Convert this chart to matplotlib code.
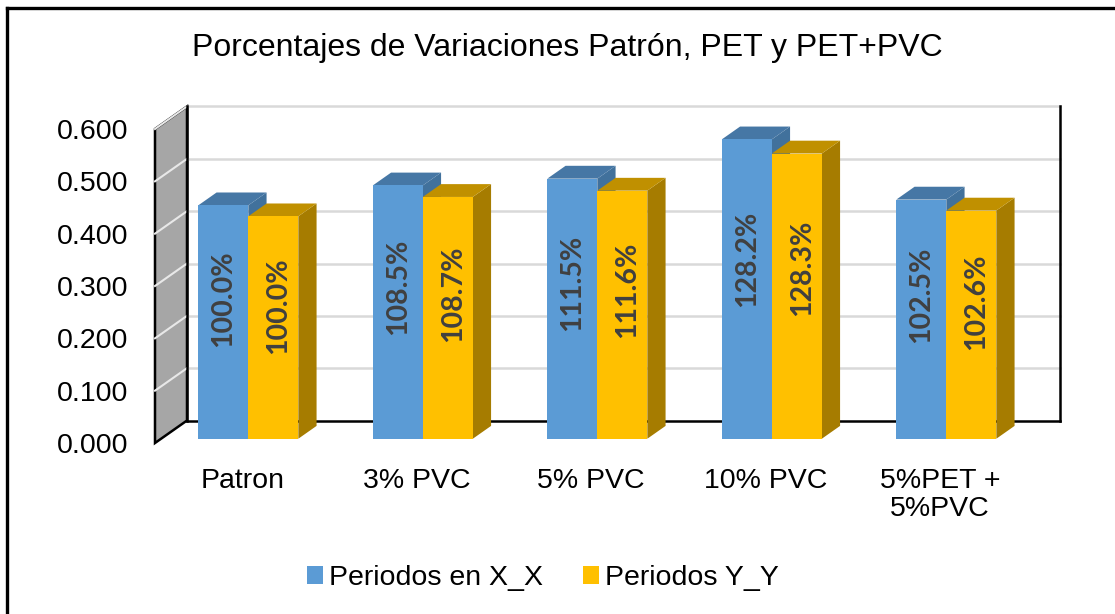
import matplotlib

matplotlib.use("Agg")

import matplotlib.pyplot as plt
from matplotlib.lines import Line2D
from matplotlib.patches import Patch, Polygon

# ---------------------------------------------------------------------------
# Data
# ---------------------------------------------------------------------------
categories = ["Patron", "3% PVC", "5% PVC", "10% PVC", "5%PET +\n5%PVC"]
series_names = ["Periodos en X_X", "Periodos Y_Y"]
values_xx = [0.446, 0.484, 0.497, 0.572, 0.457]
values_yy = [0.425, 0.462, 0.474, 0.545, 0.436]
pct_xx = ["100.0%", "108.5%", "111.5%", "128.2%", "102.5%"]
pct_yy = ["100.0%", "108.7%", "111.6%", "128.3%", "102.6%"]
y_ticks = [0.0, 0.1, 0.2, 0.3, 0.4, 0.5, 0.6]

# colours: (front, top, side)
BLUE = ("#5B9BD5", "#4677A5", "#41719C")
GOLD = ("#FFC000", "#C09000", "#A67C00")
GRID = "#D9D9D9"
WALL = "#A6A6A6"

plt.rcParams.update(
    {
        "font.family": ["Liberation Sans", "DejaVu Sans"],
        "font.size": 20.5,
    }
)

W, H = 1115, 614
fig = plt.figure(figsize=(W / 100, H / 100), dpi=100)

# front plane of the 3-D box, in pixel terms
left_px, right_px, bottom_px, top_px = 155, 1027.5, 443, 129
ax = fig.add_axes(
    [left_px / W, (H - bottom_px) / H, (right_px - left_px) / W, (bottom_px - top_px) / H]
)
n = len(categories)
x_lo, x_hi = -0.5, n - 0.5
y_lo, y_hi = 0.0, 0.6
ax.set_xlim(x_lo, x_hi)
ax.set_ylim(y_lo, y_hi)

# depth offset of the back wall, in data units
DX = 32 / ((right_px - left_px) / n)
DY = 22.5 / ((bottom_px - top_px) / (y_hi - y_lo))

# ---------------------------------------------------------------------------
# Walls
# ---------------------------------------------------------------------------
side_wall = Polygon(
    [(x_lo, y_lo), (x_lo, y_hi), (x_lo + DX, y_hi + DY), (x_lo + DX, y_lo + DY)],
    closed=True, facecolor=WALL, edgecolor="black", lw=1.8, clip_on=False, zorder=1,
)
ax.add_patch(side_wall)
for v in y_ticks[1:]:
    # side-wall grid (white) and back-wall grid (light grey)
    ax.plot([x_lo, x_lo + DX], [v, v + DY], color="#E8E8E8", lw=1.5,
            clip_on=False, zorder=2)
    ax.plot([x_lo + DX, x_hi + DX], [v + DY, v + DY], color=GRID, lw=1.8,
            clip_on=False, zorder=1)
ax.plot([x_lo + DX, x_hi + DX], [y_lo + DY, y_lo + DY], color="black", lw=1.8,
        clip_on=False, zorder=2)
ax.plot([x_hi + DX, x_hi + DX], [y_lo + DY, y_hi + DY], color="black", lw=1.8,
        clip_on=False, zorder=2)
ax.plot([x_lo + DX, x_lo + DX], [y_lo + DY, y_hi + DY], color="black", lw=1.8,
        clip_on=False, zorder=2)

# ---------------------------------------------------------------------------
# 3-D columns
# ---------------------------------------------------------------------------
bar_w = 50 / ((right_px - left_px) / n)
z0, z1 = 0.19, 0.76


def draw_column(x_left, value, colours, z):
    front, top, side = colours
    xr = x_left + bar_w
    fx0, fy0 = z0 * DX, z0 * DY
    bx0, by0 = z1 * DX, z1 * DY
    ax.add_patch(Polygon(
        [(xr + fx0, fy0), (xr + fx0, value + fy0), (xr + bx0, value + by0), (xr + bx0, by0)],
        facecolor=side, edgecolor="none", clip_on=False, zorder=z))
    ax.add_patch(Polygon(
        [(x_left + fx0, value + fy0), (xr + fx0, value + fy0),
         (xr + bx0, value + by0), (x_left + bx0, value + by0)],
        facecolor=top, edgecolor="none", clip_on=False, zorder=z))
    ax.add_patch(Polygon(
        [(x_left + fx0, fy0), (xr + fx0, fy0), (xr + fx0, value + fy0), (x_left + fx0, value + fy0)],
        facecolor=front, edgecolor="none", clip_on=False, zorder=z + 0.1))


label_kw = dict(rotation=90, ha="center", va="center", color="#404040",
                fontsize=20.5, fontweight="bold", family=["Lato", "DejaVu Sans"],
                zorder=10)
for i in range(n):
    draw_column(i - bar_w, values_xx[i], BLUE, 3)
    draw_column(i, values_yy[i], GOLD, 4)
    ax.text(i - bar_w / 2 + z0 * DX, values_xx[i] * 0.6 + z0 * DY, pct_xx[i], **label_kw)
    ax.text(i + bar_w / 2 + z0 * DX + 0.03, values_yy[i] * 0.6 + z0 * DY, pct_yy[i], **label_kw)

# ---------------------------------------------------------------------------
# Axes text
# ---------------------------------------------------------------------------
for s in ax.spines.values():
    s.set_visible(False)
ax.set_facecolor("none")
ax.set_yticks(y_ticks)
ax.set_yticklabels([f"{v:.3f}" for v in y_ticks])
ax.set_xticks(range(n))
ax.set_xticklabels(categories, linespacing=1.1)
ax.tick_params(axis="both", length=0)
ax.tick_params(axis="y", pad=19)
ax.tick_params(axis="x", pad=18)

fig.text(567 / W, 1 - 48 / H, "Porcentajes de Variaciones Patrón, PET y PET+PVC",
         ha="center", va="center", fontsize=23)

handles = [Patch(facecolor=BLUE[0]), Patch(facecolor=GOLD[0])]
fig.legend(handles, series_names, loc="center", bbox_to_anchor=(543 / W, 1 - 578 / H),
           ncol=2, frameon=False, handlelength=0.56, handleheight=0.56,
           handletextpad=0.22, columnspacing=1.4)

# chart-area border (right and bottom edges fall outside the image)
fig.add_artist(Line2D([7 / W, 7 / W], [0, 1 - 8 / H], color="black", lw=2.4))
fig.add_artist(Line2D([7 / W, 1], [1 - 8 / H, 1 - 8 / H], color="black", lw=2.4))

fig.savefig("out.png", dpi=100)
